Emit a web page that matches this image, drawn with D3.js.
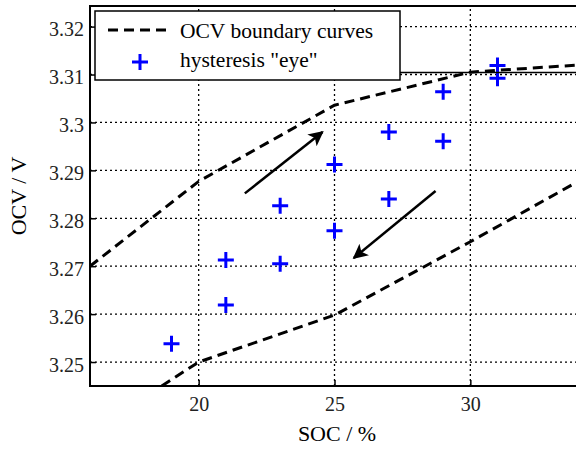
<!DOCTYPE html>
<html>
<head>
<meta charset="utf-8">
<script src="https://cdn.jsdelivr.net/npm/d3@7"></script>
<style>
  body { margin: 0; background: #fff; }
</style>
</head>
<body>
<div id="vis-container"></div>
<script>
// Data
const xTicks = [20, 25, 30];
const yTicks = [3.25, 3.26, 3.27, 3.28, 3.29, 3.3, 3.31, 3.32];
const yTickLabels = ["3.25", "3.26", "3.27", "3.28", "3.29", "3.3", "3.31", "3.32"];

// upper / lower OCV boundary curves (SOC %, OCV V)
const upperSoc = [16, 20, 25, 30, 34];
const upperOcv = [3.270, 3.2877, 3.3036, 3.3105, 3.3120];
const lowerSoc = [18.64, 20, 25, 30, 34];
const lowerOcv = [3.245, 3.2500, 3.2598, 3.2751, 3.2878];

// hysteresis "eye" points
const eyeSoc = [19, 21, 21, 23, 23, 25, 25, 27, 27, 29, 29, 31, 31];
const eyeOcv = [3.2538, 3.2713, 3.2619, 3.2826, 3.2705, 3.2912, 3.2774,
                3.2980, 3.2840, 3.3064, 3.2961, 3.3119, 3.3092];

// arrows: [socFrom, ocvFrom, socTo, ocvTo]
const arrows = [
  [21.70, 3.2852, 24.56, 3.2980],
  [28.72, 3.2857, 25.71, 3.2717]
];

const serif = '"Liberation Serif"';

// Set margins and dimensions
const width = 576, height = 449;
const margin = { top: 6, right: -3, bottom: 63, left: 90 };

const svg = d3.select("#vis-container")
  .append("svg")
  .attr("width", width)
  .attr("height", height);

svg.append("rect").attr("width", width).attr("height", height).attr("fill", "#fff");

const x = d3.scaleLinear().domain([16, 34]).range([margin.left, width - margin.right]);
const y = d3.scaleLinear().domain([3.245, 3.3243]).range([height - margin.bottom, margin.top]);

const plot = svg.append("g");

// grid lines (dotted)
plot.selectAll(".hgrid").data(yTicks).enter().append("line")
  .attr("x1", x(16)).attr("x2", x(34))
  .attr("y1", d => y(d)).attr("y2", d => y(d))
  .attr("stroke", "#000").attr("stroke-width", 1.3)
  .attr("stroke-dasharray", "2,3");
plot.selectAll(".vgrid").data(xTicks).enter().append("line")
  .attr("x1", d => x(d)).attr("x2", d => x(d))
  .attr("y1", y(3.245)).attr("y2", y(3.3243))
  .attr("stroke", "#000").attr("stroke-width", 1.3)
  .attr("stroke-dasharray", "2,3");

// axes (inward ticks)
const xAxis = svg.append("g")
  .attr("transform", `translate(0,${y(3.245)})`)
  .call(d3.axisBottom(x).tickValues(xTicks).tickSize(-6).tickPadding(11))
  .attr("font-family", null);
xAxis.select(".domain").remove();
xAxis.selectAll("line").attr("stroke-width", 1.5);
xAxis.selectAll("text").style("font-size", "20px").attr("fill", "#222");

const yAxis = svg.append("g")
  .attr("transform", `translate(${x(16)},0)`)
  .call(d3.axisLeft(y).tickValues(yTicks).tickFormat((d, i) => yTickLabels[i]).tickSize(-6).tickPadding(6))
  .attr("font-family", null);
yAxis.select(".domain").remove();
yAxis.selectAll("line").attr("stroke-width", 1.5);
yAxis.selectAll("text").style("font-size", "20px").attr("dy", "0.45em").attr("fill", "#222");

// boundary curves
const line = d3.line().x(d => x(d[0])).y(d => y(d[1]));
svg.append("clipPath").attr("id", "clip")
  .append("rect")
  .attr("x", x(16)).attr("y", y(3.3243))
  .attr("width", x(34) - x(16)).attr("height", y(3.245) - y(3.3243));

const curves = [d3.zip(upperSoc, upperOcv), d3.zip(lowerSoc, lowerOcv)];
plot.selectAll(".curve").data(curves).enter().append("path")
  .attr("class", "curve")
  .attr("clip-path", "url(#clip)")
  .attr("d", line)
  .attr("fill", "none")
  .attr("stroke", "#000")
  .attr("stroke-width", 3)
  .attr("stroke-dasharray", "10,6");

// arrows
svg.append("defs").append("marker")
  .attr("id", "head")
  .attr("viewBox", "0 0 10 10")
  .attr("refX", 9).attr("refY", 5)
  .attr("markerWidth", 7).attr("markerHeight", 6)
  .attr("markerUnits", "strokeWidth")
  .attr("orient", "auto")
  .append("path")
  .attr("d", "M0,0 L10,5 L0,10 L2.5,5 Z")
  .attr("fill", "#000");

plot.selectAll(".arrow").data(arrows).enter().append("line")
  .attr("x1", d => x(d[0])).attr("y1", d => y(d[1]))
  .attr("x2", d => x(d[2])).attr("y2", d => y(d[3]))
  .attr("stroke", "#000").attr("stroke-width", 2.5)
  .attr("marker-end", "url(#head)");

// plus markers
const eye = d3.zip(eyeSoc, eyeOcv);
const plusSize = 8;
plot.selectAll(".plus").data(eye).enter().append("path")
  .attr("d", d => {
    const px = x(d[0]), py = y(d[1]);
    return `M${px - plusSize},${py}H${px + plusSize}M${px},${py - plusSize}V${py + plusSize}`;
  })
  .attr("stroke", "#0000ff")
  .attr("stroke-width", 3)
  .attr("fill", "none");

// frame
svg.append("path")
  .attr("d", `M${x(34) + 10},${y(3.3243)}H${x(16)}V${y(3.245)}H${x(34) + 10}`)
  .attr("fill", "none").attr("stroke", "#000").attr("stroke-width", 2);

// legend
const lg = svg.append("g");
const lgRight = 400;
lg.append("rect")
  .attr("x", 95).attr("y", 11).attr("width", lgRight - 95).attr("height", 69)
  .attr("fill", "#fff").attr("stroke", "#000").attr("stroke-width", 1.5);
svg.append("line")
  .attr("x1", lgRight).attr("x2", x(34))
  .attr("y1", y(3.3104)).attr("y2", y(3.3104))
  .attr("stroke", "#000").attr("stroke-width", 1.5);
lg.append("line")
  .attr("x1", 108).attr("x2", 170).attr("y1", 30).attr("y2", 30)
  .attr("stroke", "#000").attr("stroke-width", 3).attr("stroke-dasharray", "10,6");
lg.append("text").attr("x", 180).attr("y", 38).style("font-size", "21.5px").text("OCV boundary curves");
lg.append("path")
  .attr("d", `M${140 - plusSize},62H${140 + plusSize}M140,${62 - plusSize}V${62 + plusSize}`)
  .attr("stroke", "#0000ff").attr("stroke-width", 3);
lg.append("text").attr("x", 180).attr("y", 67).style("font-size", "21.5px").text("hysteresis \"eye\"");

// axis titles
svg.append("text")
  .attr("x", 337).attr("y", 441)
  .attr("text-anchor", "middle").style("font-size", "22px")
  .text("SOC / %");
svg.append("text")
  .attr("transform", `translate(26,${196}) rotate(-90)`)
  .attr("text-anchor", "middle").style("font-size", "22px")
  .text("OCV / V");

// serif everywhere
svg.selectAll("text").style("font-family", serif).attr("font-family", "Liberation Serif");
</script>
</body>
</html>
